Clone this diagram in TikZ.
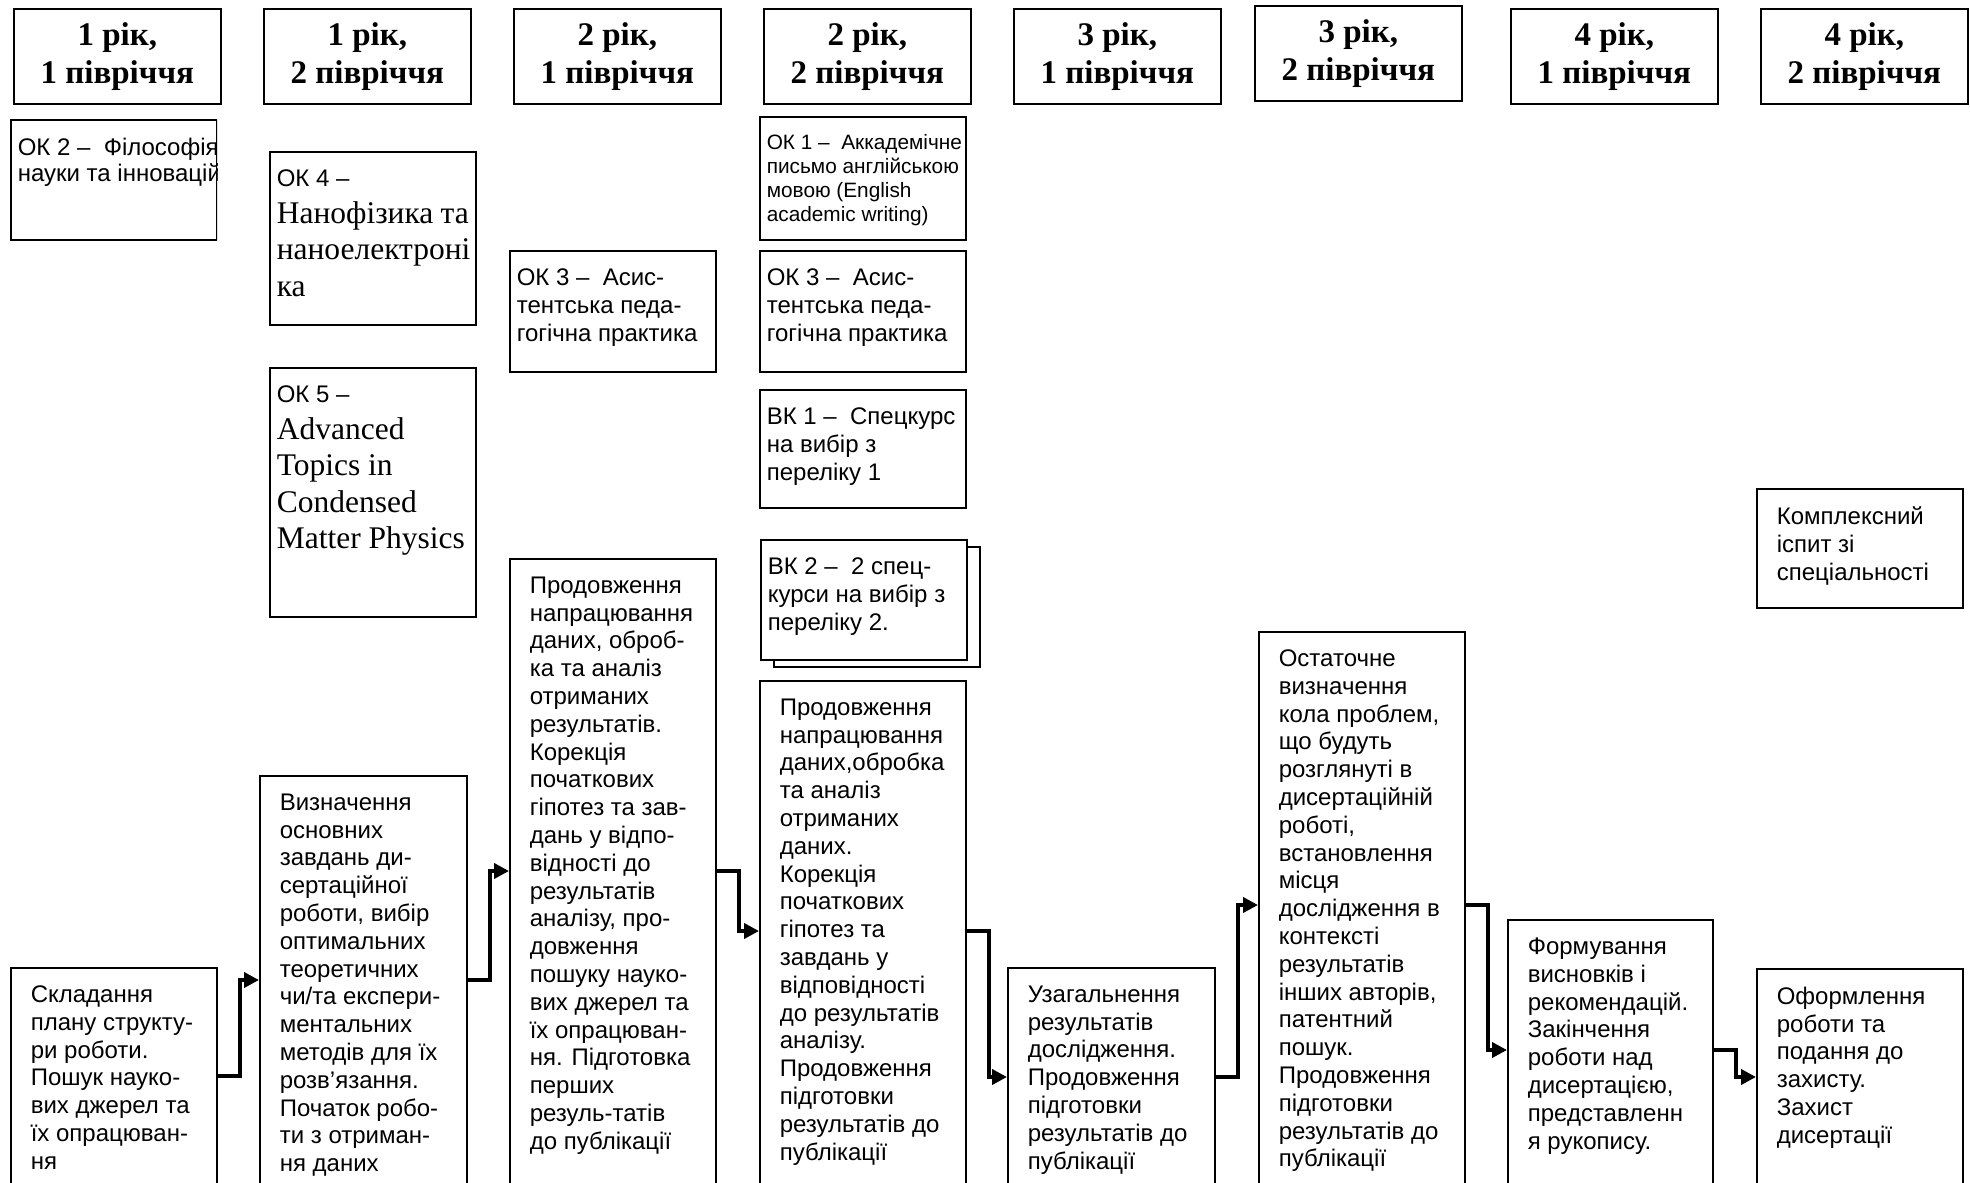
\documentclass[tikz,border=0pt]{standalone}
\usepackage{fontspec}
\setmainfont{Liberation Sans}
\newfontfamily\timesfont{Liberation Serif}
\usetikzlibrary{arrows.meta,shadows}
\newcommand{\cell}[3]{\parbox[t][#2][t]{#1}{\raggedright #3}}
\newcommand{\wide}[1]{\makebox[96pt][l]{#1}}
\newcommand{\romanbig}{\timesfont\fontsize{15.75pt}{18.25pt}\selectfont}

\begin{document}
\begin{tikzpicture}[x=0.5pt,y=-0.5pt,>={Triangle[length=7.5pt,width=7.5pt]},
    head/.style={draw,line width=0.8pt,anchor=north west,minimum width=103.5pt,
      minimum height=47.5pt,align=center,font=\timesfont\bfseries\fontsize{16.5pt}{19pt}\selectfont},
    course/.style={draw,line width=0.8pt,anchor=north west,inner xsep=3.5pt,inner ysep=9pt,
      font=\fontsize{12pt}{13.9pt}\selectfont},
    stage/.style={course,inner xsep=10pt},
    flow/.style={->,line width=2pt}]
    \useasboundingbox (0,0) rectangle (1970,1183);
    \fill[white] (0,0) rectangle (1970,1183);
    \clip (0,0) rectangle (1970,1183);

    % semesters
    \node[head] (h1) at (13,8)   {1 рік,\\1 півріччя};
    \node[head] (h2) at (263,8)  {1 рік,\\2 півріччя};
    \node[head] (h3) at (513,8)  {2 рік,\\1 півріччя};
    \node[head] (h4) at (763,8)  {2 рік,\\2 півріччя};
    \node[head] (h5) at (1013,8) {3 рік,\\1 півріччя};
    \node[head] (h6) at (1254,5) {3 рік,\\2 півріччя};
    \node[head] (h7) at (1510,8) {4 рік,\\1 півріччя};
    \node[head] (h8) at (1760,8) {4 рік,\\2 півріччя};

    % courses
    \begin{scope}
        \clip (9,118) rectangle (217,240);
        \node[course,font=\fontsize{12pt}{13.4pt}\selectfont] (ok2) at (10,119)
            {\cell{96pt}{42pt}{\wide{ОК 2 –~ Філософія}\\\wide{науки та інновацій}}};
    \end{scope}
    \node[course] (ok4) at (269,151)
        {\cell{96pt}{68.5pt}{ОК 4 –\\\romanbig Нанофізика та\\наноелектроні\\ка}};
    \node[course] (ok5) at (269,367)
        {\cell{96pt}{106.5pt}{ОК 5 –\\\romanbig Advanced\\Topics in\\Condensed\\Matter Physics}};
    \node[course] (ok3a) at (509,250)
        {\cell{96pt}{42.5pt}{ОК 3 –~ Асис-\\тентська педа-\\гогічна практика}};
    \node[course,font=\fontsize{10.4pt}{12pt}\selectfont] (ok1) at (759,116)
        {\cell{96pt}{43.5pt}{\wide{ОК 1 –~ Аккадемічне}\\\wide{письмо англійською}\\мовою (English\\academic writing)}};
    \node[course] (ok3b) at (759,250)
        {\cell{96pt}{42.5pt}{ОК 3 –~ Асис-\\тентська педа-\\гогічна практика}};
    \node[course] (vk1) at (759,389)
        {\cell{96pt}{41pt}{ВК 1 –~ Спецкурс\\на вибір з\\переліку 1}};
    \node[course,fill=white,copy shadow={shadow xshift=6.5pt,shadow yshift=-3.5pt}] (vk2) at (760,539)
        {\cell{96pt}{42pt}{ВК 2 –~ 2 спец-\\курси на вибір з\\переліку 2.}};
    \node[stage] (kompl) at (1756,488)
        {\cell{83pt}{41.5pt}{Комплексний\\іспит зі\\спеціальності}};

    % stages of the work
    \node[stage] (sk) at (10,967)
        {\cell{83pt}{96pt}{Складання\\плану структу-\\ри роботи.\\Пошук науко-\\вих джерел та\\їх опрацюван-\\ня}};
    \node[stage] (vz) at (259,775)
        {\cell{83.5pt}{192pt}{Визначення\\основних\\завдань ди-\\сертаційної\\роботи, вибір\\оптимальних\\теоретичних\\чи/та експери-\\ментальних\\методів для їх\\розв’язання.\\Початок робо-\\ти з отриман-\\ня даних}};
    \node[stage] (pr1) at (509,558)
        {\cell{83pt}{300.5pt}{Продовження\\напрацювання\\даних, оброб-\\ка та аналіз\\отриманих\\результатів.\\Корекція\\початкових\\гіпотез та зав-\\дань у відпо-\\відності до\\результатів\\аналізу, про-\\довження\\пошуку науко-\\вих джерел та\\їх опрацюван-\\ня. Підготовка\\перших\\резуль-татів\\до публікації}};
    \node[stage] (pr2) at (759,680)
        {\cell{83pt}{239.5pt}{Продовження\\напрацювання\\даних,обробка\\та аналіз\\отриманих\\даних.\\Корекція\\початкових\\гіпотез та\\завдань у\\відповідності\\до результатів\\аналізу.\\Продовження\\підготовки\\результатів до\\публікації}};
    \node[stage] (uz) at (1007,967)
        {\cell{83.5pt}{96pt}{Узагальнення\\результатів\\дослідження.\\Продовження\\підготовки\\результатів до\\публікації}};
    \node[stage] (os) at (1258,631)
        {\cell{83pt}{264pt}{Остаточне\\визначення\\кола проблем,\\що будуть\\розглянуті в\\дисертаційній\\роботі,\\встановлення\\місця\\дослідження в\\контексті\\результатів\\інших авторів,\\патентний\\пошук.\\Продовження\\підготовки\\результатів до\\публікації}};
    \node[stage] (fo) at (1507,919)
        {\cell{82.5pt}{120pt}{Формування\\висновків і\\рекомендацій.\\Закінчення\\роботи над\\дисертацією,\\представленн\\я рукопису.}};
    \node[stage] (of) at (1756,968)
        {\cell{83pt}{95.5pt}{Оформлення\\роботи та\\подання до\\захисту.\\Захист\\дисертації}};

    \draw[flow] (sk.east |- 0,1076) -- ++(22,0) |- (vz.west |- 0,980);
    \draw[flow] (vz.east |- 0,980) -- ++(22,0) |- (pr1.west |- 0,871);
    \draw[flow] (pr1.east |- 0,871) -- ++(22,0) |- (pr2.west |- 0,931);
    \draw[flow] (pr2.east |- 0,931) -- ++(22,0) |- (uz.west |- 0,1077);
    \draw[flow] (uz.east |- 0,1077) -- ++(22,0) |- (os.west |- 0,905);
    \draw[flow] (os.east |- 0,905) -- ++(22,0) |- (fo.west |- 0,1050);
    \draw[flow] (fo.east |- 0,1050) -- ++(22,0) |- (of.west |- 0,1077);
\end{tikzpicture}
\end{document}
